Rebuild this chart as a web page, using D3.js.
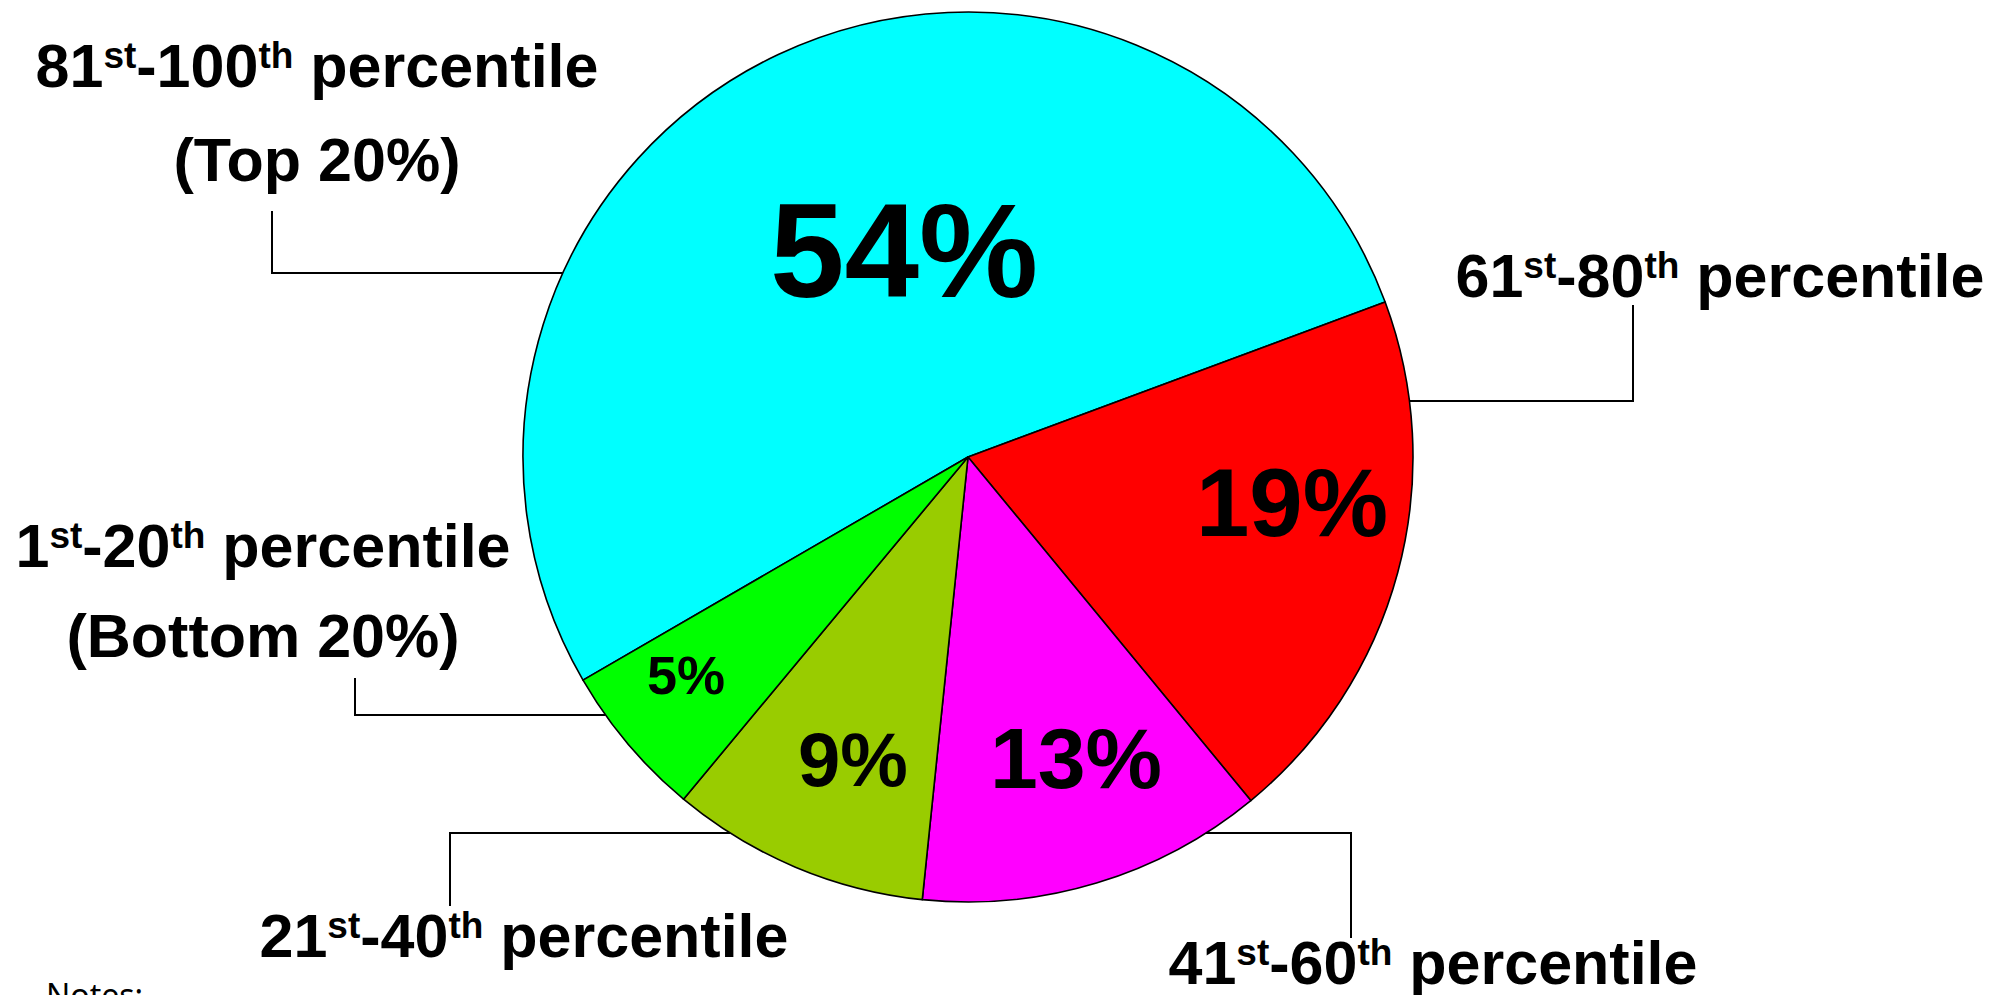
<!DOCTYPE html>
<html>
<head>
<meta charset="utf-8">
<script src="https://cdn.jsdelivr.net/npm/d3@7"></script>
<style>
  body { margin: 0; background: #fff; }
  svg { display: block; }
</style>
</head>
<body>
<div id="chart"></div>
<script>
// slice data, clockwise from the 81st-100th slice
let groups = ["81-100", "61-80", "41-60", "21-40", "1-20"];
let shares = [52.7, 19.7, 12.6, 9.4, 5.6];           // share of the circle
let pctLabels = ["54%", "19%", "13%", "9%", "5%"];
let colors = ["#00ffff", "#ff0000", "#ff00ff", "#99cc00", "#00ff00"];

// label text: [main, sup, main, sup, main] and an optional second line
let labelParts = [
  ["81", "st", "-100", "th", " percentile"],
  ["61", "st", "-80", "th", " percentile"],
  ["41", "st", "-60", "th", " percentile"],
  ["21", "st", "-40", "th", " percentile"],
  ["1", "st", "-20", "th", " percentile"]
];
let labelSecond = ["(Top 20%)", "", "", "", "(Bottom 20%)"];

let width = 2005,
    height = 995,
    cx = 968, cy = 457, r = 445;

let svg = d3.select("#chart").append("svg")
  .attr("width", width)
  .attr("height", height)
  .style("background", "#fff");

///////////////////
// pie
///////////////////

let startDeg = -120.1;
let pie = d3.pie().sort(null).value(d => d)
  .startAngle(startDeg * Math.PI / 180)
  .endAngle((startDeg + 360) * Math.PI / 180);

let arc = d3.arc().innerRadius(0).outerRadius(r);

let arcs = pie(shares);

let g = svg.append("g").attr("transform", "translate(" + cx + "," + cy + ")");

g.selectAll(".slice").data(arcs).enter().append("path")
  .attr("class", "slice")
  .attr("d", arc)
  .attr("fill", (d, i) => colors[i])
  .attr("stroke", "#000")
  .attr("stroke-width", 1.6)
  .attr("stroke-linejoin", "round");

// percent labels inside slices (offsets from the pie centre)
let pctLayout = [
  {dx: -64, dy: -160, size: 134},
  {dx: 324, dy: 79, size: 96},
  {dx: 108, dy: 331, size: 86},
  {dx: -115, dy: 329, size: 76},
  {dx: -282, dy: 237, size: 54}
];

g.selectAll(".pct").data(arcs).enter().append("text")
  .attr("class", "pct")
  .attr("x", (d, i) => pctLayout[i].dx)
  .attr("y", (d, i) => pctLayout[i].dy)
  .attr("text-anchor", "middle")
  .style("font-family", "'Liberation Sans', Arial, Helvetica, sans-serif")
  .style("font-weight", "bold")
  .style("font-size", (d, i) => pctLayout[i].size + "px")
  .text((d, i) => pctLabels[i]);

///////////////////
// outside labels + leader lines
///////////////////

// x = text centre, y = first baseline, lead = [elbow x, label-end y, edge y, side]
let labelLayout = [
  {x: 317, y: 87, y2: 181, lead: [272, 211, 273, -1]},
  {x: 1720, y: 297, y2: 0, lead: [1633, 305, 401, 1]},
  {x: 1433, y: 984, y2: 0, lead: [1351, 938, 833, 1]},
  {x: 524, y: 957, y2: 0, lead: [450, 906, 833, -1]},
  {x: 263, y: 567, y2: 657, lead: [355, 678, 715, -1]}
];

let mainSize = 61, supSize = 37, supShift = 19;
let font = "'Liberation Sans', Arial, Helvetica, sans-serif";

groups.forEach(function(grp, i) {
  let L = labelLayout[i];
  let t = svg.append("text")
    .attr("x", L.x)
    .attr("y", L.y)
    .attr("text-anchor", "middle")
    .style("font-family", font)
    .style("font-weight", "bold")
    .style("font-size", mainSize + "px");

  labelParts[i].forEach(function(part, k) {
    let isSup = (k % 2 == 1);
    t.append("tspan")
      .attr("dy", isSup ? -supShift : (k > 0 ? supShift : 0))
      .style("font-size", (isSup ? supSize : mainSize) + "px")
      .text(part);
  });

  if (labelSecond[i] != "") {
    svg.append("text")
      .attr("x", L.x)
      .attr("y", L.y2)
      .attr("text-anchor", "middle")
      .style("font-family", font)
      .style("font-weight", "bold")
      .style("font-size", mainSize + "px")
      .text(labelSecond[i]);
  }

  // leader: vertical from the label, then horizontal to the pie edge
  let ex = L.lead[0], ey0 = L.lead[1], ey = L.lead[2], side = L.lead[3];
  let edgeX = cx + side * Math.sqrt(r * r - (ey - cy) * (ey - cy));
  svg.append("path")
    .attr("d", d3.line()([[ex, ey0], [ex, ey], [edgeX, ey]]))
    .attr("fill", "none")
    .attr("stroke", "#000")
    .attr("stroke-width", 2);
});

// footnote, mostly cut off at the bottom edge
svg.append("text")
  .attr("x", 46)
  .attr("y", 1007)
  .style("font-family", "'Noto Sans', Lato, sans-serif")
  .style("font-size", "32px")
  .text("Notes:");
</script>
</body>
</html>
